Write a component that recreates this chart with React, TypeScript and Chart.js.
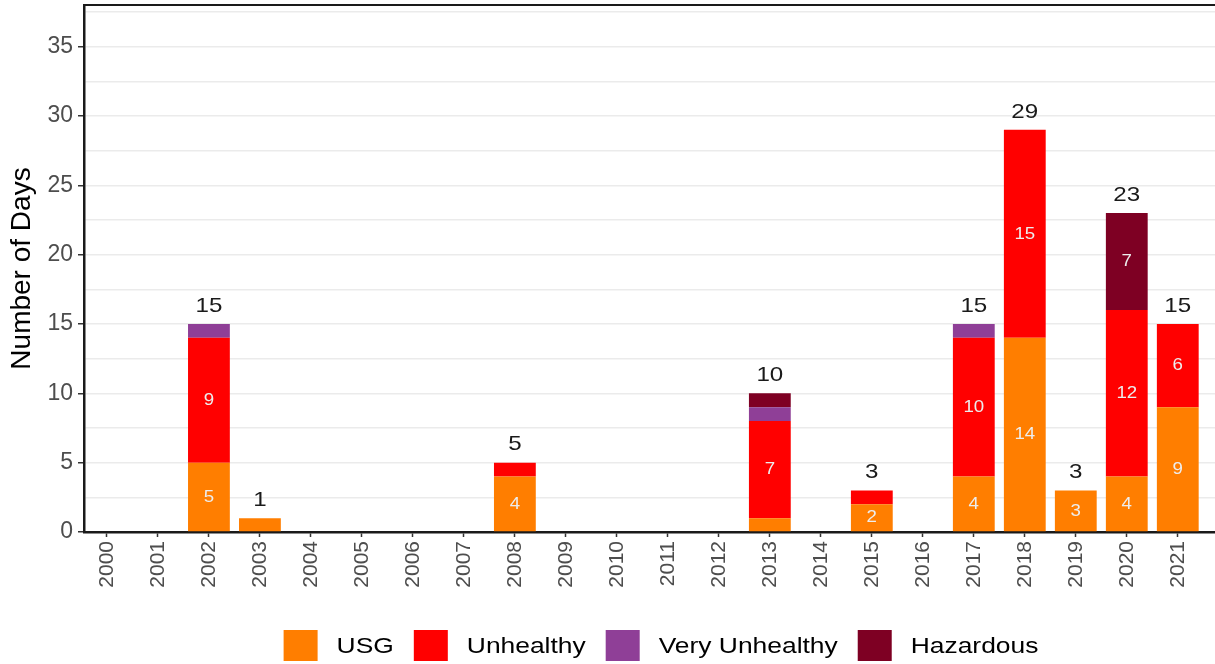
import React, { useEffect, useRef } from "react";
import { Chart, registerables } from "chart.js";

Chart.register(...registerables);

const years = [
  "2000", "2001", "2002", "2003", "2004", "2005", "2006", "2007", "2008", "2009", "2010",
  "2011", "2012", "2013", "2014", "2015", "2016", "2017", "2018", "2019", "2020", "2021",
];
const usg = [0, 0, 5, 1, 0, 0, 0, 0, 4, 0, 0, 0, 0, 1, 0, 2, 0, 4, 14, 3, 4, 9];
const unhealthy = [0, 0, 9, 0, 0, 0, 0, 0, 1, 0, 0, 0, 0, 7, 0, 1, 0, 10, 15, 0, 12, 6];
const veryUnhealthy = [0, 0, 1, 0, 0, 0, 0, 0, 0, 0, 0, 0, 0, 1, 0, 0, 0, 1, 0, 0, 0, 0];
const hazardous = [0, 0, 0, 0, 0, 0, 0, 0, 0, 0, 0, 0, 0, 1, 0, 0, 0, 0, 0, 0, 7, 0];

const seriesNames = ["USG", "Unhealthy", "Very Unhealthy", "Hazardous"];
const seriesColors = ["#FF7E00", "#FF0000", "#8F3F97", "#7E0023"];
const seriesValues = [usg, unhealthy, veryUnhealthy, hazardous];

const yTickValues = [0, 2.5, 5, 7.5, 10, 12.5, 15, 17.5, 20, 22.5, 25, 27.5, 30, 32.5, 35, 37.5];

const FONT = "'Liberation Sans', Arial, sans-serif";

function stretchedText(ctx: any, text: string, x: number, y: number, sx: number) {
  ctx.save();
  ctx.translate(x, y);
  ctx.scale(sx, 1);
  ctx.fillText(text, 0, 0);
  ctx.restore();
}

const labelsPlugin = {
  id: "barLabels",
  afterDatasetsDraw(chart: any) {
    const ctx = chart.ctx;
    ctx.save();
    ctx.textAlign = "center";
    ctx.textBaseline = "middle";
    ctx.font = `17px ${FONT}`;
    ctx.fillStyle = "#EDEDED";
    chart.data.datasets.forEach((ds: any, d: number) => {
      const meta = chart.getDatasetMeta(d);
      meta.data.forEach((el: any, i: number) => {
        const v = seriesValues[d][i];
        if (v > 1) {
          stretchedText(ctx, String(v), el.x, (el.y + el.base) / 2, 1.1);
        }
      });
    });
    ctx.font = `21px ${FONT}`;
    ctx.fillStyle = "#1a1a1a";
    const yScale = chart.scales.y;
    const xScale = chart.scales.x;
    years.forEach((_, i) => {
      const total = seriesValues.reduce((s, arr) => s + arr[i], 0);
      if (total > 0) {
        stretchedText(ctx, String(total), xScale.getPixelForValue(i), yScale.getPixelForValue(total) - 18, 1.15);
      }
    });
    ctx.restore();
  },
  afterDraw(chart: any) {
    const ctx = chart.ctx;
    const { left, right, top } = chart.chartArea;
    ctx.save();
    // top border
    ctx.strokeStyle = "#1a1a1a";
    ctx.lineWidth = 2;
    ctx.beginPath();
    ctx.moveTo(left - 1, top);
    ctx.lineTo(right, top);
    ctx.stroke();

    // legend
    const sx = 1.2;
    ctx.font = `22px ${FONT}`;
    ctx.textBaseline = "middle";
    ctx.textAlign = "left";
    const boxW = 34;
    const boxH = 31;
    const gapText = 19;
    const gapItem = 20;
    const widths = seriesNames.map((n) => ctx.measureText(n).width * sx);
    const total =
      widths.reduce((s, w) => s + boxW + gapText + w, 0) + gapItem * (seriesNames.length - 1);
    let x = 661 - total / 2;
    const boxTop = 630;
    seriesNames.forEach((n, i) => {
      ctx.fillStyle = seriesColors[i];
      ctx.fillRect(x, boxTop, boxW, boxH);
      ctx.fillStyle = "#000000";
      stretchedText(ctx, n, x + boxW + gapText, boxTop + boxH / 2 + 1, sx);
      x += boxW + gapText + widths[i] + gapItem;
    });
    ctx.restore();
  },
};

export default function App() {
  const canvasRef = useRef<HTMLCanvasElement | null>(null);

  useEffect(() => {
    document.body.style.margin = "0";
    const canvas = canvasRef.current;
    if (!canvas) return;
    Chart.defaults.font.family = FONT;

    const chart = new Chart(canvas, {
      type: "bar",
      data: {
        datasets: seriesNames.map((name, d) => ({
          label: name,
          data: seriesValues[d].map((v, i) => ({ x: i, y: v })),
          backgroundColor: seriesColors[d],
          borderWidth: 0,
          barPercentage: 0.82,
          categoryPercentage: 1,
        })),
      },
      options: {
        animation: false,
        responsive: false,
        maintainAspectRatio: false,
        layout: { padding: { top: 5, bottom: 50, left: 0, right: 0 } },
        plugins: {
          legend: { display: false },
          tooltip: { enabled: false },
        },
        scales: {
          x: {
            type: "linear",
            stacked: true,
            offset: false,
            min: -0.45,
            max: 21.73,
            afterBuildTicks: (scale: any) => {
              scale.ticks = years.map((_, i) => ({ value: i }));
            },
            afterFit: (scale: any) => {
              scale.height = 82;
              scale.paddingLeft = 0;
              scale.paddingRight = 0;
            },
            ticks: {
              autoSkip: false,
              minRotation: 90,
              maxRotation: 90,
              padding: 4,
              color: "#4D4D4D",
              font: { size: 21, family: FONT },
              callback: (v: any) => years[Math.round(Number(v))] ?? "",
            },
            grid: {
              offset: false,
              drawOnChartArea: false,
              drawTicks: true,
              tickLength: 5,
              tickColor: "#333333",
              tickWidth: 1.5,
            },
            border: { display: true, color: "#1a1a1a", width: 2.5 },
          },
          y: {
            type: "linear",
            stacked: true,
            min: 0,
            max: 38,
            afterBuildTicks: (scale: any) => {
              scale.ticks = yTickValues.map((v) => ({ value: v }));
            },
            afterFit: (scale: any) => {
              scale.width = 84;
              scale.paddingTop = 0;
              scale.paddingBottom = 0;
            },
            ticks: {
              padding: 5,
              color: "#4D4D4D",
              font: { size: 23, family: FONT },
              callback: (v: any) => (Number(v) % 5 === 0 ? String(v) : ""),
            },
            grid: {
              color: "#EBEBEB",
              lineWidth: 1.5,
              drawTicks: true,
              tickLength: 6,
              tickWidth: 1.5,
              tickColor: (ctx: any) =>
                ctx.tick && ctx.tick.value % 5 === 0 ? "#333333" : "rgba(0,0,0,0)",
            },
            border: { display: true, color: "#1a1a1a", width: 2.5 },
            title: {
              display: true,
              text: "Number of Days",
              color: "#000000",
              font: { size: 28, family: FONT },
              padding: { top: 5, bottom: 0 },
            },
          },
        },
      },
      plugins: [labelsPlugin],
    } as any);

    return () => chart.destroy();
  }, []);

  return (
    <div style={{ width: 1215, height: 664 }}>
      <canvas ref={canvasRef} width={1215} height={664} style={{ display: "block" }} />
    </div>
  );
}
